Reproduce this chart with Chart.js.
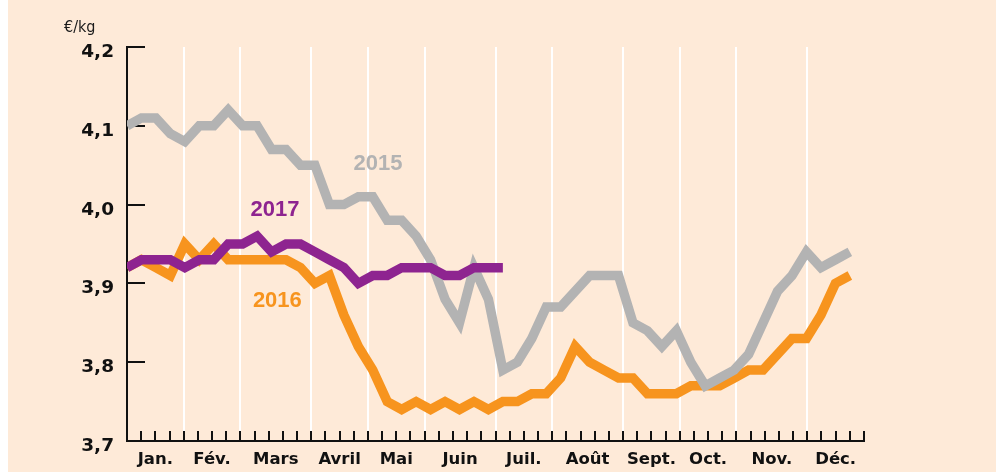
<!DOCTYPE html>
<html><head><meta charset="utf-8">
<script src="https://cdn.jsdelivr.net/npm/chart.js@4"></script>
<style>html,body{margin:0;padding:0;background:#fff;}canvas{display:block;}</style>
</head><body>
<canvas id="c" width="996" height="472"></canvas>
<script>
// ---- data ----
const monthLabels = ['Jan.','Fév.','Mars','Avril','Mai','Juin','Juil.','Août','Sept.','Oct.','Nov.','Déc.'];
const monthStarts = [0,4,8,13,17,21,26,30,35,39,43,48,52];
const yTicks = [3.7,3.8,3.9,4.0,4.1,4.2];
const yTickLabels = ['3,7','3,8','3,9','4,0','4,1','4,2'];
const seriesNames = ['2017','2015','2016'];
const series2015 = [4.10,4.11,4.11,4.09,4.08,4.10,4.10,4.12,4.10,4.10,4.07,4.07,4.05,4.05,4.00,4.00,4.01,4.01,3.98,3.98,3.96,3.93,3.88,3.85,3.92,3.88,3.79,3.80,3.83,3.87,3.87,3.89,3.91,3.91,3.91,3.85,3.84,3.82,3.84,3.80,3.77,3.78,3.79,3.81,3.85,3.89,3.91,3.94,3.92,3.93,3.94];
const series2016 = [3.92,3.93,3.92,3.91,3.95,3.93,3.95,3.93,3.93,3.93,3.93,3.93,3.92,3.90,3.91,3.86,3.82,3.79,3.75,3.74,3.75,3.74,3.75,3.74,3.75,3.74,3.75,3.75,3.76,3.76,3.78,3.82,3.80,3.79,3.78,3.78,3.76,3.76,3.76,3.77,3.77,3.77,3.78,3.79,3.79,3.81,3.83,3.83,3.86,3.90,3.91];
const series2017 = [3.92,3.93,3.93,3.93,3.92,3.93,3.93,3.95,3.95,3.96,3.94,3.95,3.95,3.94,3.93,3.92,3.90,3.91,3.91,3.92,3.92,3.92,3.91,3.91,3.92,3.92,3.92];

// ---- style ----
const BG = '#FEEAD8';
const INK = '#111111';
const colors = {'2015':'#B3B3B3','2016':'#F7941E','2017':'#8E2490'};
const seriesData = {'2015':series2015,'2016':series2016,'2017':series2017};
const labelAnchors = {'2015':{x:17.36,y:4.052},'2017':{x:10.24,y:3.993},'2016':{x:10.4,y:3.878}};
const X_DATA_MAX = 50 * 52 / 51;

const toPts = arr => arr.map((v,i)=>({x:i,y:v}));

const decor = {
  id:'decor',
  beforeDraw(chart){
    const c = chart.ctx;
    c.save();
    c.fillStyle = BG;
    c.fillRect(8,0,chart.width-8,chart.height);
    c.restore();
  },
  beforeDatasetsDraw(chart){
    const c = chart.ctx, a = chart.chartArea;
    const wk = chart.scales.weeks, ys = chart.scales.y;
    c.save();
    c.strokeStyle = INK; c.lineWidth = 2;
    c.beginPath();
    for (let w=1; w<=52; w++){
      const x = Math.round(wk.getPixelForValue(w));
      c.moveTo(x, a.bottom-10); c.lineTo(x, a.bottom);
    }
    yTicks.forEach(v=>{
      const y = Math.round(ys.getPixelForValue(v));
      c.moveTo(a.left, y); c.lineTo(a.left+18, y);
    });
    c.stroke();
    c.restore();
  },
  afterDatasetsDraw(chart){
    const c = chart.ctx;
    const xs = chart.scales.x, ys = chart.scales.y;
    c.save();
    c.font = 'bold 22px "Liberation Sans", Arial, sans-serif';
    c.textAlign = 'center'; c.textBaseline = 'middle';
    Object.keys(labelAnchors).forEach(k=>{
      c.fillStyle = colors[k];
      c.fillText(k, xs.getPixelForValue(labelAnchors[k].x), ys.getPixelForValue(labelAnchors[k].y));
    });
    c.fillStyle = '#1a1a1a';
    c.font = '16px "DejaVu Sans Condensed", "DejaVu Sans", sans-serif';
    c.textAlign = 'left'; c.textBaseline = 'alphabetic';
    c.fillText('€/kg', 64, 32);
    c.restore();
  }
};

new Chart(document.getElementById('c'), {
  type:'line',
  data:{datasets: seriesNames.map(n=>({
    label:n, data:toPts(seriesData[n]), borderColor:colors[n], borderWidth:9.5,
    pointRadius:0, fill:false, tension:0, borderJoinStyle:'miter', borderCapStyle:'butt'
  }))},
  options:{
    responsive:false, animation:false, events:[],
    layout:{padding:{left:0,right:132,top:47,bottom:0}},
    plugins:{legend:{display:false}, tooltip:{enabled:false}},
    scales:{
      x:{type:'linear', display:false, min:0, max:X_DATA_MAX},
      weeks:{type:'linear', position:'bottom', min:0, max:52,
        afterBuildTicks:s=>{s.ticks = monthStarts.slice(1,-1).map(v=>({value:v}));},
        grid:{color:'#ffffff', lineWidth:2, drawTicks:false},
        border:{display:false}, ticks:{display:false},
        afterFit:s=>{s.height=0;}},
      months:{type:'linear', position:'bottom', min:0, max:52,
        afterBuildTicks:s=>{s.ticks = monthLabels.map((l,i)=>({value:(monthStarts[i]+monthStarts[i+1])/2}));},
        ticks:{autoSkip:false, maxRotation:0, padding:9, color:INK,
          font:{family:'"DejaVu Sans", sans-serif', weight:'bold', size:16.5},
          callback:(v,i)=>monthLabels[i]},
        grid:{display:false, drawTicks:false}, border:{display:true, color:INK, width:2},
        afterFit:s=>{s.height=31;}},
      y:{type:'linear', min:3.7, max:4.2,
        afterBuildTicks:s=>{s.ticks = yTicks.map(v=>({value:v}));},
        ticks:{padding:13, color:INK,
          font:{family:'"DejaVu Sans", sans-serif', weight:'bold', size:18.5, lineHeight:0.55},
          callback:(v,i)=>['', yTickLabels[i]]},
        grid:{display:false, drawTicks:false}, border:{display:true, color:INK, width:2},
        afterFit:s=>{s.width=127;}}
    }
  },
  plugins:[decor]
});
</script>
</body></html>
